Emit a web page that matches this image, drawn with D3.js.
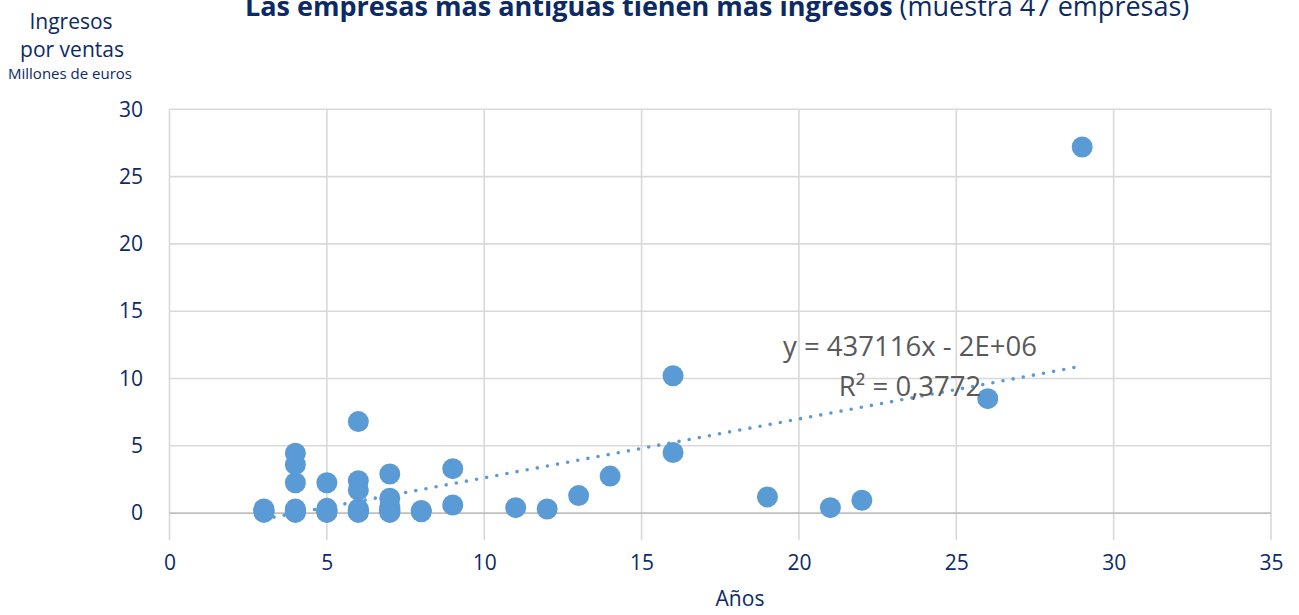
<!DOCTYPE html>
<html>
<head>
<meta charset="utf-8">
<script src="https://cdn.jsdelivr.net/npm/d3@7"></script>
<style>
  body { margin: 0; background: #fff; }
  text { font-family: "Open Sans", "Noto Sans", sans-serif; }
</style>
</head>
<body>
<script>

/* ---------------------------- */
/* DATA                         */
/* ---------------------------- */

// Age of the company (years)
const years = [3, 3, 3, 3,
               4, 4, 4, 4, 4, 4, 4,
               5, 5, 5, 5, 5,
               6, 6, 6, 6, 6, 6,
               7, 7, 7, 7, 7, 7,
               8, 8,
               9, 9,
               11, 12, 13, 14, 16, 16, 19, 21, 22, 26, 29,
               4, 5, 6, 7];
// Sales revenue (millions of euros)
const revenue = [0.3, 0.05, 0.15, 0.2,
                 4.45, 3.6, 2.25, 0.3, 0.05, 0.15, 0.2,
                 2.25, 0.35, 0.05, 0.2, 0.1,
                 6.8, 2.4, 1.7, 0.3, 0.1, 0.2,
                 2.9, 1.1, 0.5, 0.05, 0.2, 0.3,
                 0.2, 0.1,
                 3.3, 0.6,
                 0.4, 0.3, 1.3, 2.75, 10.2, 4.5, 1.2, 0.4, 0.95, 8.5, 27.2,
                 0.1, 0.15, 0.05, 0.1];

// Linear trend as labelled by the spreadsheet (in millions)
const trendSlope = 0.437116;
const trendIntercept = -1.75;
const trendRange = [3, 29];
const trendLabels = ["y = 437116x - 2E+06", "R² = 0,3772"];

// Tick values
const xTicks = [0, 5, 10, 15, 20, 25, 30, 35];
const yTicks = [0, 5, 10, 15, 20, 25, 30];

const points = years.map((d, i) => ({age: d, value: revenue[i]}));

/* ---------------------------- */
/* CANVAS                       */
/* ---------------------------- */

const w = 1299;
const h = 615;
const navy = "#0c2a64";
const blue = "#5b9bd5";

let svg = d3.select("body")
    .append("svg")
        .attr("width", w)
        .attr("height", h);

let x = d3.scaleLinear()
    .domain([0, 35])
    .range([169.5, 1271]);
let y = d3.scaleLinear()
    .domain([-2, 30])
    .range([540, 109.3]);

/* ---------------------------- */
/* GRID                         */
/* ---------------------------- */

// vertical gridlines run down to the bottom of the plot (-2)
svg.append("g")
    .selectAll("line")
    .data(xTicks)
    .enter()
    .append("line")
        .attr("x1", (d) => x(d))
        .attr("x2", (d) => x(d))
        .attr("y1", y(30))
        .attr("y2", y(-2))
        .attr("stroke", "#d9d9d9")
        .attr("stroke-width", 1.6);

svg.append("g")
    .selectAll("line")
    .data(yTicks)
    .enter()
    .append("line")
        .attr("x1", x(0))
        .attr("x2", x(35))
        .attr("y1", (d) => y(d))
        .attr("y2", (d) => y(d))
        .attr("stroke", (d) => d === 0 ? "#bfbfbf" : "#d9d9d9")
        .attr("stroke-width", 1.6);

/* ---------------------------- */
/* AXES LABELS                  */
/* ---------------------------- */

let xAxis = svg.append("g")
    .attr("transform", "translate(0," + 563 + ")")
    .call(d3.axisBottom(x).tickValues(xTicks).tickSize(0).tickPadding(0));
xAxis.select(".domain").remove();
xAxis.selectAll("text")
    .attr("dy", "0.35em")
    .attr("fill", navy)
    .style("font-size", "21px");

let yAxis = svg.append("g")
    .attr("transform", "translate(" + 143 + ",0)")
    .call(d3.axisLeft(y).tickValues(yTicks).tickSize(0).tickPadding(0));
yAxis.select(".domain").remove();
yAxis.selectAll("text")
    .attr("fill", navy)
    .style("font-size", "21px");

svg.append("text")
    .attr("x", 740)
    .attr("y", 606)
    .attr("text-anchor", "middle")
    .attr("fill", navy)
    .style("font-size", "21px")
    .text("Años");

// Y title (three lines)
svg.append("text")
    .attr("x", 71)
    .attr("y", 29)
    .attr("text-anchor", "middle")
    .attr("fill", navy)
    .style("font-size", "21px")
    .text("Ingresos");
svg.append("text")
    .attr("x", 72)
    .attr("y", 57)
    .attr("text-anchor", "middle")
    .attr("fill", navy)
    .style("font-size", "21px")
    .text("por ventas");
svg.append("text")
    .attr("x", 70)
    .attr("y", 79)
    .attr("text-anchor", "middle")
    .attr("fill", navy)
    .style("font-size", "15px")
    .text("Millones de euros");

// Title (top is cut by the image border, as in the source)
let title = svg.append("text")
    .attr("x", 245)
    .attr("y", 16)
    .attr("fill", navy)
    .style("font-size", "27px");
title.append("tspan")
    .style("font-weight", "bold")
    .text("Las empresas más antiguas tienen más ingresos");
title.append("tspan")
    .text(" (muestra 47 empresas)");

/* ---------------------------- */
/* POINTS + TREND               */
/* ---------------------------- */

svg.append("g")
    .selectAll("circle")
    .data(points)
    .enter()
    .append("circle")
        .attr("cx", (d) => x(d.age))
        .attr("cy", (d) => y(d.value))
        .attr("r", 10.5)
        .attr("fill", blue);

let trendLine = d3.line()
    .x((d) => x(d))
    .y((d) => y(trendSlope * d + trendIntercept));

svg.append("path")
    .datum(trendRange)
    .attr("d", trendLine)
    .attr("fill", "none")
    .attr("stroke", blue)
    .attr("stroke-width", 3.6)
    .attr("stroke-linecap", "round")
    .attr("stroke-dasharray", "0 10.3");

// Equation label
svg.append("g")
    .selectAll("text")
    .data(trendLabels)
    .enter()
    .append("text")
        .attr("x", 910)
        .attr("y", (d, i) => 356 + i * 40)
        .attr("text-anchor", "middle")
        .attr("fill", "#595959")
        .style("font-size", "27.5px")
        .text((d) => d);

</script>
</body>
</html>
